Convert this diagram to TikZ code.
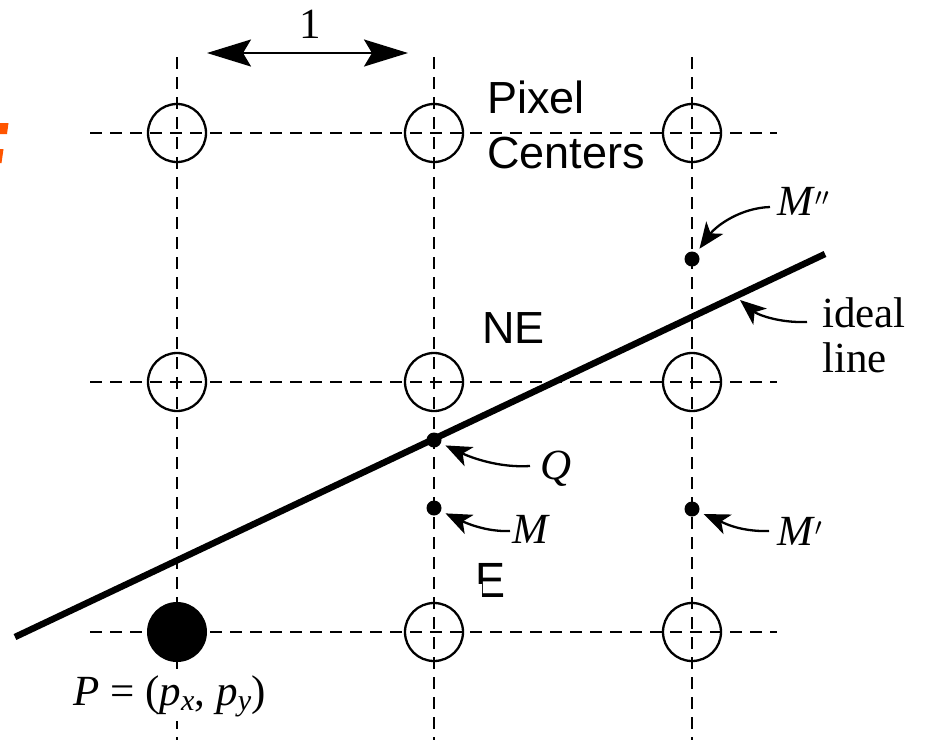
\documentclass[tikz,border=0pt]{standalone}
\usepackage{fontspec}
\setmainfont{Liberation Serif}
\newfontfamily\arialf{Liberation Sans}
\usetikzlibrary{arrows.meta}
\definecolor{orangefrag}{RGB}{255,85,0}
\begin{document}
\begin{tikzpicture}[x=1pt,y=-1pt,
  grid/.style={line width=2.2pt, dash pattern=on 12pt off 8pt},
  pixel/.style={circle, draw, line width=2.3pt, minimum size=58pt, inner sep=0pt},
  filledpix/.style={circle, fill=black, minimum size=60pt, inner sep=0pt},
  dot/.style={circle, fill=black, minimum size=15pt, inner sep=0pt},
  lab/.style={inner sep=0pt, font=\fontsize{43}{43}\selectfont},
  sanslab/.style={inner sep=0pt, font=\arialf\fontsize{45}{45}\selectfont},
  ptr/.style={line width=2.3pt, -{Stealth[length=26pt,width=21pt,inset=7pt]}, shorten >=5pt},
  dimarrow/.style={line width=2.2pt, {Stealth[length=44pt,width=27pt,inset=8pt]}-{Stealth[length=44pt,width=27pt,inset=8pt]}},
  idealline/.style={line width=6.5pt}
]
\useasboundingbox (0,0) rectangle (930,740);

% orange fragment at left edge
\fill[orangefrag] (0,123) -- (8.5,123) -- (7,134) -- (0,134) -- cycle;
\fill[orangefrag] (0,149) -- (3.5,149) -- (1.5,163) -- (0,163) -- cycle;

% grid
\coordinate (v1t) at (177,57);  \coordinate (v1b) at (177,740);
\coordinate (v2t) at (434,57);  \coordinate (v2b) at (434,740);
\coordinate (v3t) at (692,57);  \coordinate (v3b) at (692,740);
\coordinate (h1l) at (90,133);  \coordinate (h1r) at (777,133);
\coordinate (h2l) at (90,382);  \coordinate (h2r) at (777,382);
\coordinate (h3l) at (90,632);  \coordinate (h3r) at (777,632);
\draw[grid] (v1t) -- (v1b);
\draw[grid] (v2t) -- (v2b);
\draw[grid] (v3t) -- (v3b);
\draw[grid] (h1l) -- (h1r);
\draw[grid] (h2l) -- (h2r);
\draw[grid] (h3l) -- (h3r);

% pixel centers
\node[pixel] (p11) at (177,133) {};
\node[pixel] (p21) at (434,133) {};
\node[pixel] (p31) at (692,133) {};
\node[pixel] (p12) at (177,382) {};
\node[pixel] (p22) at (434,382) {};
\node[pixel] (p32) at (692,382) {};
\node[filledpix] (p13) at (177,632) {};
\node[pixel] (p23) at (434,632) {};
\node[pixel] (p33) at (692,632) {};

% ideal line
\coordinate (la) at (15,637);
\coordinate (lb) at (825,254);
\draw[idealline] (la) -- (lb);

% dots
\node[dot] (Qdot) at (434,440) {};
\node[dot] (Mdot) at (434,508) {};
\node[dot] (M1dot) at (692,509) {};
\node[dot] (M2dot) at (692,259) {};

% unit arrow
\coordinate (ua) at (207,53);
\coordinate (ub) at (408,53);
\draw[dimarrow] (ua) -- (ub);
\node[lab, anchor=base] (one) at (310,38) {1};

% sans labels
\node[sanslab, anchor=base west] (pixA) at (487,113) {Pixel};
\node[sanslab, anchor=base west] (pixB) at (487,168) {Centers};
\node[sanslab, anchor=base west] (ne) at (482,343) {NE};
\node[sanslab, anchor=base west, yscale=1.1] (e) at (475,597) {E};
\fill[white] (472,584) rectangle (482,601);

% serif labels
\node[lab, anchor=base west] (Qlab) at (540,479) {\textit{Q}};
\node[lab, anchor=base west] (Mlab) at (512,543) {\textit{M}};
\node[lab, anchor=base west] (M1lab) at (777,545) {\textit{M}$^{\prime}$};
\node[lab, anchor=base west] (M2lab) at (777,215) {\textit{M}$^{\prime\prime}$};
\node[lab, anchor=base west] (ideal) at (822,327) {ideal};
\node[lab, anchor=base west] (line) at (822,372) {line};
\node[lab, anchor=base west, fill=white, inner ysep=4pt] (Plab) at (73,705)
  {\textit{P} = (\textit{p}\textsubscript{\textit{x}}, \textit{p}\textsubscript{\textit{y}})};

% pointer arrows
\coordinate (idealpt) at (740,300);
\draw[ptr] ([shift={(-10,-13)}]Qlab.base west) .. controls (500,468) and (472,458) .. (Qdot);
\draw[ptr] ([shift={(-2,-12)}]Mlab.base west) .. controls (485,532) and (464,522) .. (Mdot);
\draw[ptr] ([shift={(-8,-14)}]M1lab.base west) .. controls (738,532) and (720,521) .. (M1dot);
\draw[ptr] ([shift={(-7,-8)}]M2lab.base west) .. controls (740,208) and (716,226) .. (M2dot);
\draw[ptr, shorten >=0pt] ([shift={(-15,-5)}]ideal.base west) .. controls (780,323) and (758,315) .. (idealpt);
\end{tikzpicture}
\end{document}
